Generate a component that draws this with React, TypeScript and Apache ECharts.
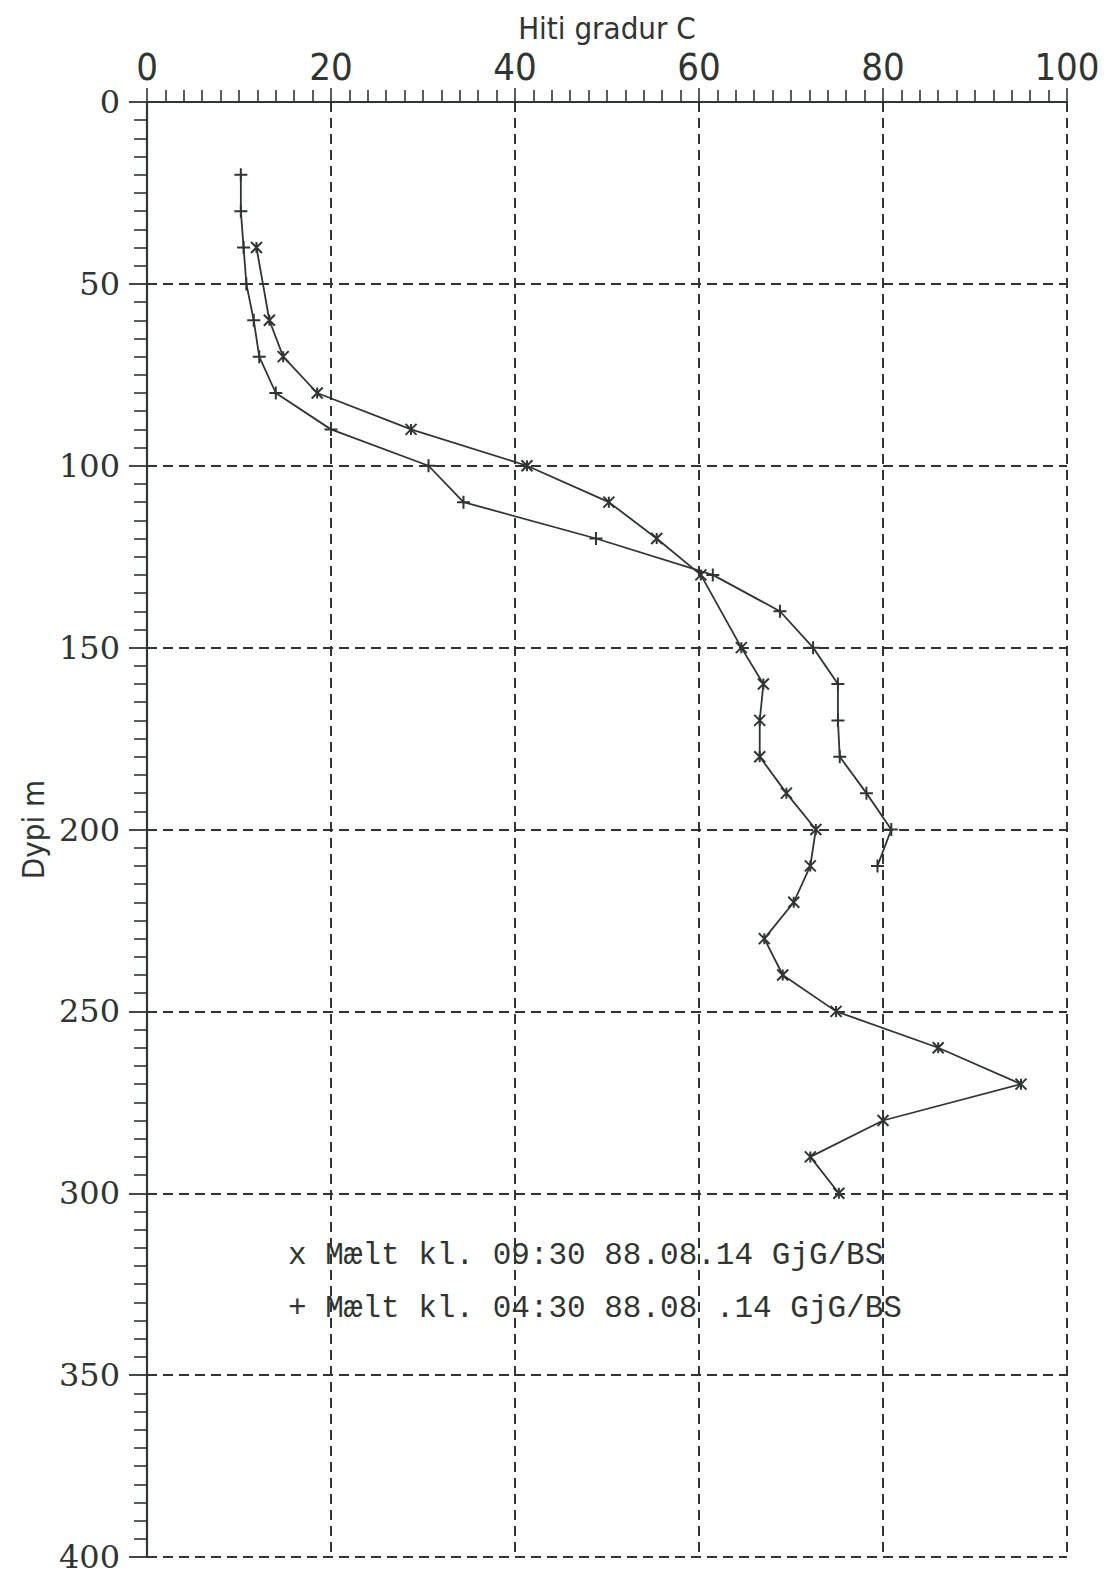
import React, { useEffect, useRef } from "react";
import * as echarts from "echarts";

// Depth (m) and temperature (°C) readings
const depthPlus = [20, 30, 40, 50, 60, 70, 80, 90, 100, 110, 120, 130, 140, 150, 160, 170, 180, 190, 200, 210];
const tempPlus = [10.2, 10.2, 10.5, 10.8, 11.6, 12.2, 14.0, 20.0, 30.6, 34.4, 48.8, 61.5, 68.8, 72.4, 75.1, 75.1, 75.3, 78.2, 80.9, 79.4];

const depthX = [40, 60, 70, 80, 90, 100, 110, 120, 130, 150, 160, 170, 180, 190, 200, 210, 220, 230, 240, 250, 260, 270, 280, 290, 300];
const tempX = [11.9, 13.3, 14.8, 18.5, 28.7, 41.3, 50.2, 55.4, 60.2, 64.6, 67.0, 66.6, 66.6, 69.5, 72.7, 72.1, 70.3, 67.1, 69.1, 74.9, 86.0, 95.0, 80.0, 72.1, 75.2];

const xTitle = "Hiti gradur C";
const yTitle = "Dypi m";
const legendX = "x Mælt kl. 09:30 88.08.14 GjG/BS";
const legendPlus = "+ Mælt kl. 04:30 88.08 .14 GjG/BS";

const INK = "#2f3631";
const SANS = "'DejaVu Sans Condensed', 'Liberation Sans Narrow', 'DejaVu Sans', sans-serif";

export default function App() {
  const ref = useRef<HTMLDivElement>(null);
  useEffect(() => {
    if (!ref.current) return;
    const chart = echarts.init(ref.current, null, { renderer: "svg" });
    const dashed = { show: true, lineStyle: { color: INK, width: 2, type: [10, 6] as any } };
    chart.setOption({
      animation: false,
      backgroundColor: "#ffffff",
      grid: { left: 147, right: 50, top: 102, bottom: 21, containLabel: false },
      xAxis: {
        type: "value",
        position: "top",
        min: 0,
        max: 100,
        interval: 20,
        name: xTitle,
        nameLocation: "middle",
        nameGap: 56,
        nameTextStyle: { fontFamily: SANS, fontSize: 31, color: INK, fontWeight: "lighter" },
        axisLine: { show: true, onZero: false, lineStyle: { color: INK, width: 2.2 } },
        axisTick: { show: true, length: 14, lineStyle: { color: INK, width: 1.6 } },
        minorTick: { show: true, splitNumber: 10, length: 12, lineStyle: { color: INK, width: 1.6 } },
        axisLabel: { fontFamily: SANS, fontSize: 38, color: INK, margin: 16 },
        splitLine: dashed,
      },
      yAxis: {
        type: "value",
        inverse: true,
        min: 0,
        max: 400,
        interval: 50,
        name: yTitle,
        nameLocation: "middle",
        nameGap: 94,
        nameRotate: 90,
        nameTextStyle: { fontFamily: SANS, fontSize: 31, color: INK, fontWeight: "lighter" },
        axisLine: { show: true, onZero: false, lineStyle: { color: INK, width: 2.2 } },
        axisTick: { show: true, length: 18, lineStyle: { color: INK, width: 1.8 } },
        minorTick: { show: true, splitNumber: 10, length: 13, lineStyle: { color: INK, width: 1.6 } },
        axisLabel: { fontFamily: "'DejaVu Serif', 'Liberation Serif', serif", fontSize: 32, color: INK, margin: 27 },
        splitLine: dashed,
      },
      series: [
        {
          name: legendX,
          type: "line",
          data: depthX.map((d, i) => [tempX[i], d]),
          symbol: "path://M0,0L10,10M10,0L0,10M5,0L5,10",
          symbolSize: 11,
          showSymbol: true,
          itemStyle: { color: "rgba(0,0,0,0)", borderColor: INK, borderWidth: 2 },
          lineStyle: { color: INK, width: 1.8 },
        },
        {
          name: legendPlus,
          type: "line",
          data: depthPlus.map((d, i) => [tempPlus[i], d]),
          symbol: "path://M5,0L5,10M0,5L10,5",
          symbolSize: 13,
          showSymbol: true,
          itemStyle: { color: "rgba(0,0,0,0)", borderColor: INK, borderWidth: 2 },
          lineStyle: { color: INK, width: 1.8 },
        },
      ],
      graphic: [
        {
          type: "text",
          left: 288,
          top: 1240,
          style: { text: legendX, font: "31px 'Liberation Mono', 'DejaVu Sans Mono', monospace", fill: INK },
        },
        {
          type: "text",
          left: 288,
          top: 1293,
          style: { text: legendPlus, font: "31px 'Liberation Mono', 'DejaVu Sans Mono', monospace", fill: INK },
        },
      ],
    });
    return () => chart.dispose();
  }, []);
  return (
    <div
      ref={ref}
      style={{ position: "absolute", left: 0, top: 0, width: 1117, height: 1578, background: "#fff" }}
    />
  );
}
